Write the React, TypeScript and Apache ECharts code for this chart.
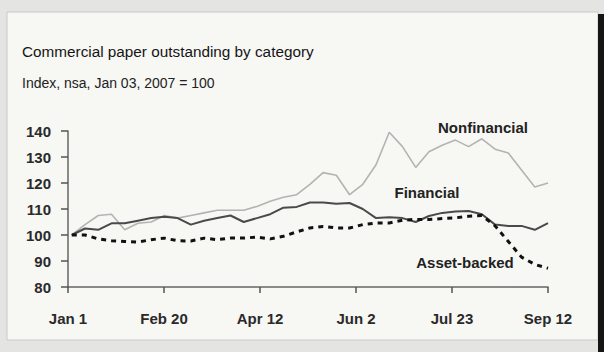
import React, { useEffect, useRef } from "react";
import * as echarts from "echarts";

// Weekly observations, Jan 03 2007 .. Sep 12 2007 (days since Jan 1)
const weekStartDay = 2;
const nonfinancial = [
  100, 104, 107.5, 108, 102, 104.5, 105, 107.5, 106.5, 107.5, 108.5, 109.5,
  109.5, 109.5, 111, 113, 114.5, 115.5, 119.5, 124, 123, 115.5, 119.5, 127,
  139.5, 134, 126, 132, 134.5, 136.5, 134, 137, 133, 131.5, 125, 118.5, 120,
];
const financial = [
  100, 102.5, 102, 104.5, 104.5, 105.5, 106.5, 107, 106.5, 104, 105.5, 106.5,
  107.5, 105, 106.5, 108, 110.5, 110.8, 112.5, 112.5, 112, 112.3, 110, 106.5,
  106.8, 106.5, 105, 107.3, 108.5, 109, 109.2, 108, 104, 103.5, 103.5, 102,
  104.6,
];
const assetBacked = [
  100, 100, 98.5, 97.8, 97.5, 97.3, 98.2, 98.8, 97.8, 97.7, 98.8, 98.2, 98.8,
  98.8, 99.2, 98.5, 99.5, 101.2, 102.7, 103.3, 102.7, 102.7, 104, 104.6, 104.6,
  105.7, 106, 106, 106.3, 106.6, 107.2, 107.5, 103.5, 97.5, 91.5, 88.7, 87.2,
];
const xTickLabels = ["Jan 1", "Feb 20", "Apr 12", "Jun 2", "Jul 23", "Sep 12"];
const xTickDays = [0, 50, 101, 152, 203, 254];
const yMin = 80;
const yMax = 140;
const yStep = 10;

const toPairs = (vals: number[]) =>
  vals.map((v, i) => [weekStartDay + 7 * i, v]);

const FONT = "'Liberation Sans', Arial, sans-serif";

export default function App() {
  const ref = useRef<HTMLDivElement>(null);
  useEffect(() => {
    document.body.style.margin = "0";
    if (!ref.current) return;
    const chart = echarts.init(ref.current, null, { renderer: "svg" });
    const span = xTickDays[xTickDays.length - 1] / (xTickLabels.length - 1);
    chart.setOption({
      animation: false,
      backgroundColor: "#e4e4e2",
      textStyle: { fontFamily: FONT },
      graphic: [
        {
          type: "rect",
          z: -10,
          shape: { x: 7, y: 12, width: 591, height: 328 },
          style: { fill: "#f7f7f4", stroke: "#c9c9c7", lineWidth: 1 },
        },
        {
          type: "rect",
          z: -9,
          shape: { x: 598, y: 14, width: 6, height: 338 },
          style: { fill: "#151515" },
        },
        {
          type: "text",
          x: 483,
          y: 127,
          style: {
            text: "Nonfinancial",
            font: `bold 15px ${FONT}`,
            fill: "#222",
            align: "center",
            verticalAlign: "middle",
          },
        },
        {
          type: "text",
          x: 427,
          y: 192,
          style: {
            text: "Financial",
            font: `bold 15px ${FONT}`,
            fill: "#222",
            align: "center",
            verticalAlign: "middle",
          },
        },
        {
          type: "text",
          x: 465,
          y: 262,
          style: {
            text: "Asset-backed",
            font: `bold 15px ${FONT}`,
            fill: "#222",
            align: "center",
            verticalAlign: "middle",
          },
        },
      ],
      title: [
        {
          text: "Commercial paper outstanding by category",
          left: 22,
          top: 44,
          padding: 0,
          textStyle: {
            fontFamily: FONT,
            fontSize: 15.3,
            fontWeight: "normal",
            color: "#151515",
          },
        },
        {
          text: "Index, nsa, Jan 03, 2007 = 100",
          left: 22,
          top: 76,
          padding: 0,
          textStyle: {
            fontFamily: FONT,
            fontSize: 14,
            fontWeight: "normal",
            color: "#222",
          },
        },
      ],
      grid: { left: 68, right: 56, top: 131, bottom: 65 },
      xAxis: {
        type: "value",
        min: 0,
        max: xTickDays[xTickDays.length - 1],
        interval: span,
        axisLine: { show: true, lineStyle: { color: "#666", width: 1.5 } },
        axisTick: {
          show: true,
          inside: false,
          length: 6,
          lineStyle: { color: "#555", width: 1.5 },
        },
        splitLine: { show: false },
        axisLabel: {
          margin: 24,
          fontFamily: FONT,
          fontSize: 15,
          fontWeight: "bold",
          color: "#2a2a2a",
          formatter: (v: number) => xTickLabels[Math.round(v / span)] ?? "",
        },
      },
      yAxis: {
        type: "value",
        min: yMin,
        max: yMax,
        interval: yStep,
        axisLine: { show: true, lineStyle: { color: "#666", width: 1.5 } },
        axisTick: { show: true, length: 7, lineStyle: { color: "#555", width: 1.5 } },
        splitLine: { show: false },
        axisLabel: {
          margin: 17,
          fontFamily: FONT,
          fontSize: 15,
          fontWeight: "bold",
          color: "#2a2a2a",
        },
      },
      series: [
        {
          name: "Nonfinancial",
          type: "line",
          data: toPairs(nonfinancial),
          showSymbol: false,
          lineStyle: { color: "#b3b3b1", width: 1.6 },
          z: 2,
        },
        {
          name: "Financial",
          type: "line",
          data: toPairs(financial),
          showSymbol: false,
          lineStyle: { color: "#4a4a4a", width: 2 },
          z: 3,
        },
        {
          name: "Asset-backed",
          type: "line",
          data: toPairs(assetBacked),
          showSymbol: false,
          lineStyle: { color: "#111", width: 3, type: [5, 5], cap: "butt" },
          z: 4,
        },
      ],
    });
    return () => chart.dispose();
  }, []);
  return <div ref={ref} style={{ width: 604, height: 352 }} />;
}
